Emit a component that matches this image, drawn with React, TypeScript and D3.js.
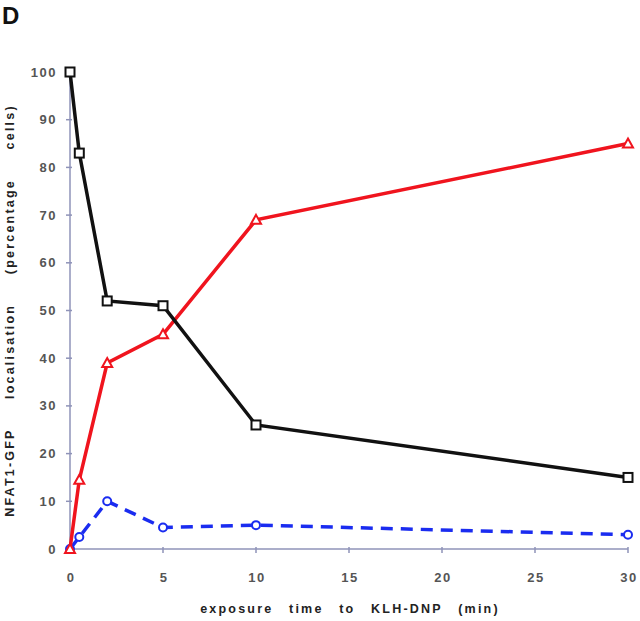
import React from "react";
import * as d3 from "d3";

const times = [0, 0.5, 2, 5, 10, 30];
const cytoplasmic = [100, 83, 52, 51, 26, 15];
const nuclear = [0, 14.5, 39, 45, 69, 85];
const intermediate = [0, 2.5, 10, 4.5, 5, 3];
const xTicks = [0, 5, 10, 15, 20, 25, 30];
const yTicks = [0, 10, 20, 30, 40, 50, 60, 70, 80, 90, 100];

const width = 640;
const height = 621;
const margin = { left: 70, right: 12, top: 72, bottom: 72 };

const font = "'Liberation Sans', Arial, sans-serif";

const App = () => {
  const x = d3.scaleLinear().domain([0, 30]).range([margin.left, 628]);
  const y = d3.scaleLinear().domain([0, 100]).range([549, margin.top]);
  const line = d3
    .line<number>()
    .x((d, i) => x(times[i]))
    .y((d) => y(d));

  const tri = (cx: number, cy: number) => {
    const r = 5;
    return `M${cx},${cy - r}L${cx + r},${cy + r * 0.8}L${cx - r},${cy + r * 0.8}Z`;
  };

  return (
    <svg
      width={width}
      height={height}
      style={{ position: "absolute", left: 0, top: 0, background: "#fff" }}
      fontFamily={font}
    >
      <text x={2} y={24} fontSize={24} fontWeight="bold" fill="#111">D</text>

      {/* axes */}
      <line x1={x(0)} x2={x(0)} y1={y(100)} y2={y(0)} stroke="#8f93b8" strokeWidth={1.5} />
      <line x1={x(0)} x2={x(30)} y1={y(0)} y2={y(0)} stroke="#8f93b8" strokeWidth={1.5} />
      {yTicks.map((t) => (
        <g key={"y" + t}>
          <line x1={x(0) - 4} x2={x(0) + 2} y1={y(t)} y2={y(t)} stroke="#8f93b8" strokeWidth={1.5} />
          <text x={57} y={y(t) + 4.5} textAnchor="end" fontSize={13} fontWeight="bold" fill="#555" letterSpacing={1.5}>
            {t}
          </text>
        </g>
      ))}
      {xTicks.map((t) => (
        <g key={"x" + t}>
          <line x1={x(t)} x2={x(t)} y1={y(0) - 2} y2={y(0) + 4} stroke="#8f93b8" strokeWidth={1.5} />
          <text x={x(t) + 1} y={582} textAnchor="middle" fontSize={13} fontWeight="bold" fill="#555" letterSpacing={1.5}>
            {t}
          </text>
        </g>
      ))}
      <text
        x={350}
        y={613}
        textAnchor="middle"
        fontSize={12.5}
        fontWeight="bold"
        fill="#222"
        letterSpacing={2.2}
        wordSpacing={10}
      >
        exposure time to KLH-DNP (min)
      </text>
      <text
        transform={`translate(14,${y(50)}) rotate(-90)`}
        textAnchor="middle"
        fontSize={12.5}
        fontWeight="bold"
        fill="#222"
        letterSpacing={2.2}
        wordSpacing={24}
      >
        NFAT1-GFP localisation (percentage cells)
      </text>

      {/* blue dashed series */}
      <path d={line(intermediate) || ""} fill="none" stroke="#1a2cf0" strokeWidth={3.5} strokeDasharray="12 8" />
      {intermediate.map((v, i) => (
        <circle key={"c" + i} cx={x(times[i])} cy={y(v)} r={4} fill="#fff" stroke="#1a2cf0" strokeWidth={2} />
      ))}

      {/* red series */}
      <path d={line(nuclear) || ""} fill="none" stroke="#f0141e" strokeWidth={3.5} />
      {nuclear.map((v, i) => (
        <path key={"t" + i} d={tri(x(times[i]), y(v))} fill="#fff" stroke="#f0141e" strokeWidth={2} />
      ))}

      {/* black series */}
      <path d={line(cytoplasmic) || ""} fill="none" stroke="#111" strokeWidth={3.5} />
      {cytoplasmic.map((v, i) => (
        <rect key={"s" + i} x={x(times[i]) - 4.5} y={y(v) - 4.5} width={9} height={9} fill="#fff" stroke="#111" strokeWidth={2} />
      ))}
    </svg>
  );
};

export default App;
